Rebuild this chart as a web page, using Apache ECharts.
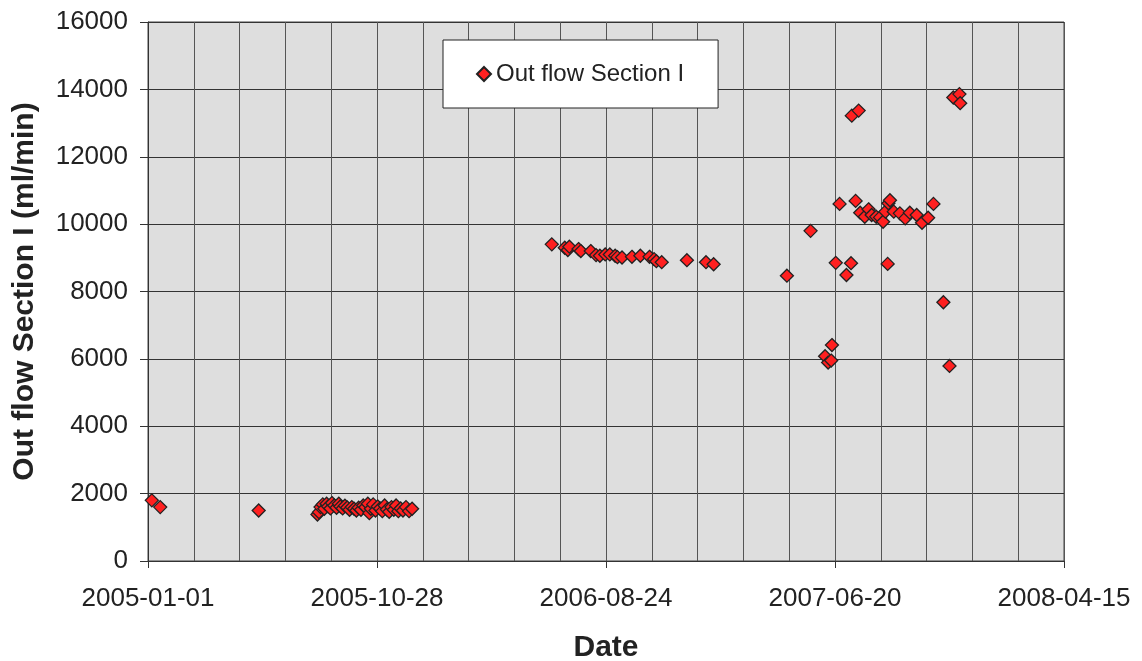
<!DOCTYPE html>
<html>
<head>
<meta charset="utf-8">
<title>Out flow Section I</title>
<script src="https://cdn.jsdelivr.net/npm/echarts@6/dist/echarts.min.js"></script>
<style>
  html, body { margin: 0; padding: 0; background: #fff; }
  #main { width: 1142px; height: 661px; }
</style>
</head>
<body>
<div id="main"></div>
<script>
// x = days counted from 2005-01-01, y = out flow (ml/min)
var startDate = Date.UTC(2005, 0, 1);

var dayOffsets = [
  5, 16, 145,
  // autumn 2005
  222, 224, 226, 229, 231, 234, 236, 239, 241, 244, 247, 250, 252, 255, 258, 261,
  264, 267, 270, 273, 276, 279, 282, 285, 288, 290, 292, 295, 298, 301, 304, 307,
  310, 313, 316, 319, 322, 325, 328, 331, 334, 338, 342, 346,
  // 2006
  529, 546, 550, 552, 564, 567, 580, 587, 592, 599, 605, 612, 615, 621, 634, 645,
  657, 663, 666, 673, 706, 731, 741,
  // 2007 - 2008
  837, 868, 887, 891, 895, 896, 901, 906, 915, 921, 922, 927, 931, 933, 939, 944,
  948, 954, 959, 963, 966, 969, 970, 972, 977, 985, 992, 998, 1007, 1014, 1022, 1029,
  1042, 1050, 1055, 1063, 1064
];

var outflow = [
  1800, 1600, 1500,
  1380, 1450, 1600, 1680, 1550, 1700, 1620, 1560, 1720, 1650, 1580, 1700, 1620, 1560, 1640, 1590,
  1520, 1600, 1550, 1500, 1580, 1520, 1650, 1600, 1700, 1420, 1550, 1680, 1500, 1620, 1560, 1480,
  1650, 1530, 1460, 1600, 1520, 1650, 1480, 1560, 1500, 1600, 1480, 1550,
  9400, 9300, 9230, 9330, 9260, 9200, 9200, 9080, 9060, 9100, 9100, 9060, 9020, 9010, 9030, 9060,
  9030, 8960, 8900, 8870, 8930, 8870, 8810,
  8470, 9800, 6080, 5890, 5950, 6410, 8850, 10600, 8490, 8840, 13220, 10690, 13370, 10340, 10220, 10440,
  10270, 10220, 10200, 10070, 10370, 8820, 10620, 10710, 10370, 10320, 10170, 10340, 10270, 10040, 10190, 10600,
  7680, 5790, 13760, 13860, 13590
];

var points = dayOffsets.map(function (d, i) { return [d, outflow[i]]; });

function dayToDate(v) {
  return new Date(startDate + v * 86400000).toISOString().slice(0, 10);
}

var myChart = echarts.init(document.getElementById('main'));
var font = 'Liberation Sans, Arial, sans-serif';

var option = {
  animation: false,
  backgroundColor: '#fff',
  textStyle: { fontFamily: font },
  grid: {
    left: 148, right: 78, top: 22, bottom: 100,
    containLabel: false,
    outerBoundsMode: 'none',
    show: true,
    backgroundColor: '#dedede',
    borderColor: '#444',
    borderWidth: 1
  },
  legend: {
    data: ['Out flow Section I'],
    left: 443, top: 40,
    backgroundColor: '#fff',
    borderColor: '#222',
    borderWidth: 1,
    padding: [22, 34, 22, 33],
    itemWidth: 14, itemHeight: 14,
    textStyle: { fontSize: 24, lineHeight: 24, color: '#222', fontFamily: font }
  },
  xAxis: {
    type: 'value',
    min: 0, max: 1200, interval: 300,
    name: 'Date',
    nameLocation: 'middle',
    nameGap: 72,
    nameTextStyle: { fontSize: 30, fontWeight: 'bold', color: '#222', fontFamily: font },
    axisLine: { lineStyle: { color: '#333', width: 1 } },
    axisTick: { show: true, length: 7, lineStyle: { color: '#333' } },
    axisLabel: { fontSize: 26, color: '#222', margin: 25, formatter: dayToDate, fontFamily: font },
    splitLine: { show: true, lineStyle: { color: '#555', width: 1 } },
    minorTick: { show: false, splitNumber: 5 },
    minorSplitLine: { show: true, lineStyle: { color: '#555', width: 1 } }
  },
  yAxis: {
    type: 'value',
    min: 0, max: 16000, interval: 2000,
    name: 'Out flow Section I (ml/min)',
    nameLocation: 'middle',
    nameGap: 108,
    nameTextStyle: { fontSize: 30, fontWeight: 'bold', color: '#222', fontFamily: font },
    axisLine: { show: true, lineStyle: { color: '#333', width: 1 } },
    axisTick: { show: true, length: 8, lineStyle: { color: '#333' } },
    axisLabel: {
      fontSize: 26, color: '#222', margin: 20, fontFamily: font,
      formatter: function (v) { return String(v); }
    },
    splitLine: { show: true, lineStyle: { color: '#333', width: 1 } }
  },
  series: [{
    name: 'Out flow Section I',
    type: 'scatter',
    symbol: 'diamond',
    symbolSize: 13,
    itemStyle: { color: '#ff2020', borderColor: '#222', borderWidth: 1.3, opacity: 1 },
    data: points
  }]
};

myChart.setOption(option);
</script>
</body>
</html>
